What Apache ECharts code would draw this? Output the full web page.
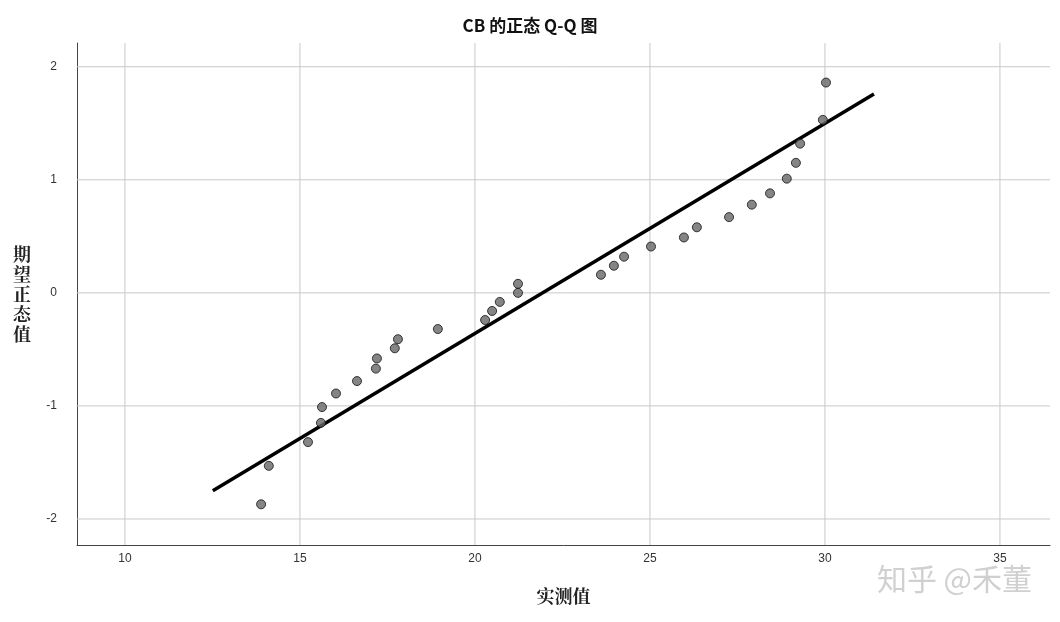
<!DOCTYPE html>
<html><head><meta charset="utf-8">
<script src="https://cdn.jsdelivr.net/npm/echarts@6/dist/echarts.min.js"></script>
<style>html,body{margin:0;background:#fff}#c{width:1060px;height:622px}</style>
</head><body><div id="c"></div>
<script>
// observed values and expected normal quantiles
const observed = [13.89,14.11,15.23,15.6,15.63,16.03,16.63,17.17,17.2,17.71,17.8,18.94,20.29,20.49,20.71,21.23,21.23,23.6,23.97,24.26,25.03,25.97,26.34,27.26,27.91,28.43,28.91,29.17,29.29,29.94,30.03]
const expected = [-1.87,-1.53,-1.32,-1.15,-1.01,-0.89,-0.78,-0.67,-0.58,-0.49,-0.41,-0.32,-0.24,-0.16,-0.08,0,0.08,0.16,0.24,0.32,0.41,0.49,0.58,0.67,0.78,0.88,1.01,1.15,1.32,1.53,1.86]
const refLine = [[12.51,-1.75],[31.4,1.76]]
const xTicks = [10,15,20,25,30,35]
const yTicks = [-2,-1,0,1,2]

const chart = echarts.init(document.getElementById('c'))
const cjk = '"Noto Sans CJK SC", sans-serif'
chart.setOption({
  animation: false,
  title: { text: 'CB 的正态 Q-Q 图', left: 'center', top: 12,
    textStyle: { fontSize: 17, fontWeight: 'bold', color: '#111', fontFamily: cjk } },
  grid: { left: 77, right: 10, top: 43, bottom: 77 },
  xAxis: {
    type: 'value', min: 8.63, max: 36.43,
    name: '实测值', nameLocation: 'middle', nameGap: 42,
    nameTextStyle: { fontSize: 18, fontWeight: 'bold', color: '#222', fontFamily: '"Noto Serif CJK SC", serif' },
    axisLine: { onZero: false, lineStyle: { color: '#444' } },
    axisTick: { show: false },
    axisLabel: { color: '#333', fontSize: 12, customValues: xTicks },
    splitLine: { show: false }
  },
  yAxis: {
    type: 'value', min: -2.23, max: 2.21,
    name: '期\n望\n正\n态\n值', nameLocation: 'middle', nameGap: 46, nameRotate: 0,
    nameTextStyle: { fontSize: 18, fontWeight: 'bold', color: '#222', lineHeight: 20, fontFamily: '"Noto Serif CJK SC", serif' },
    axisLine: { show: true, onZero: false, lineStyle: { color: '#444' } },
    axisTick: { show: false },
    axisLabel: { color: '#333', fontSize: 12, margin: 20, customValues: yTicks },
    splitLine: { show: false }
  },
  series: [
    { type: 'line', data: xTicks.flatMap(v => [[v, -2.23], [v, 2.21], null]).slice(0, -1),
      connectNulls: false, symbol: 'none', silent: true, lineStyle: { color: '#c8c8c8', width: 1 }, z: 1 },
    { type: 'line', data: yTicks.flatMap(v => [[8.63, v], [36.43, v], null]).slice(0, -1),
      connectNulls: false, symbol: 'none', silent: true, lineStyle: { color: '#c8c8c8', width: 1 }, z: 1 },
    { type: 'line', data: refLine, symbol: 'none', lineStyle: { color: '#000', width: 3.5 }, z: 3 },
    { type: 'scatter', data: observed.map((x, i) => [x, expected[i]]), symbolSize: 9,
      itemStyle: { color: '#666', borderColor: '#111', borderWidth: 1 }, z: 4 }
  ],
  graphic: [{ type: 'text', right: 28, bottom: 28,
    style: { text: '知乎 @禾董', fontSize: 30, fill: '#d0d0d0', fontFamily: cjk } }]
})
</script></body></html>
